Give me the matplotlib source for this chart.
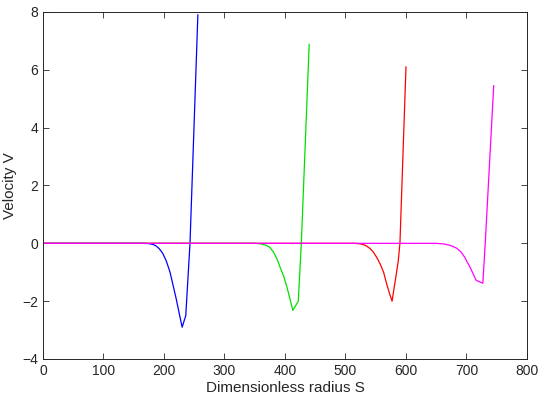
import matplotlib.pyplot as plt

plt.rcParams['font.family'] = ['Liberation Sans', 'DejaVu Sans']
plt.rcParams['font.size'] = 10

# values
s_blue = [0, 165, 175, 182, 187, 192, 198, 204, 210, 215, 220, 225, 230, 236, 243, 256]
v_blue = [0, 0, -0.01, -0.04, -0.09, -0.18, -0.35, -0.62, -1.0, -1.45, -1.9, -2.4, -2.9, -2.5, 0, 7.9]

s_green = [0, 350, 360, 368, 375, 381, 387, 392, 398, 403, 408, 413, 422, 427, 440]
v_green = [0, 0, -0.02, -0.06, -0.14, -0.3, -0.55, -0.83, -1.15, -1.5, -1.9, -2.32, -2.0, 0, 6.88]

s_red = [0, 515, 525, 533, 540, 546, 552, 557, 563, 568, 573, 577, 587, 590, 600]
v_red = [0, 0, -0.02, -0.07, -0.17, -0.3, -0.5, -0.7, -1.0, -1.4, -1.75, -2.0, -0.65, 0, 6.1]

s_mag = [0, 650, 662, 673, 684, 691, 697, 706, 716, 727, 731, 745]
v_mag = [0, 0, -0.02, -0.07, -0.17, -0.3, -0.48, -0.83, -1.28, -1.38, 0, 5.45]

x_ticks = [0, 100, 200, 300, 400, 500, 600, 700, 800]
y_ticks = [-4, -2, 0, 2, 4, 6, 8]

fig = plt.figure(figsize=(5.4, 4.0), dpi=100)
ax = fig.add_axes([0.0796, 0.1025, 0.8963, 0.8675])

ax.plot(s_blue, v_blue, color='#0000ff', linewidth=0.9)
ax.plot(s_green, v_green, color='#00e000', linewidth=0.9)
ax.plot(s_red, v_red, color='#ff0000', linewidth=0.9)
ax.plot(s_mag, v_mag, color='#ff00ff', linewidth=0.9)

ax.set_xlim(0, 800)
ax.set_ylim(-4, 8)
ax.set_xticks(x_ticks)
ax.set_yticks(y_ticks)
ax.tick_params(direction='in', top=True, right=True, length=4, width=0.6,
               labelsize=10, colors='#262626')
for sp in ax.spines.values():
    sp.set_linewidth(0.7)
    sp.set_color('#262626')

ax.set_xlabel('Dimensionless radius S', fontsize=11, labelpad=2, color='#262626')
ax.set_ylabel('Velocity V', fontsize=11, labelpad=4, color='#262626')

fig.savefig('out.png', dpi=100)
